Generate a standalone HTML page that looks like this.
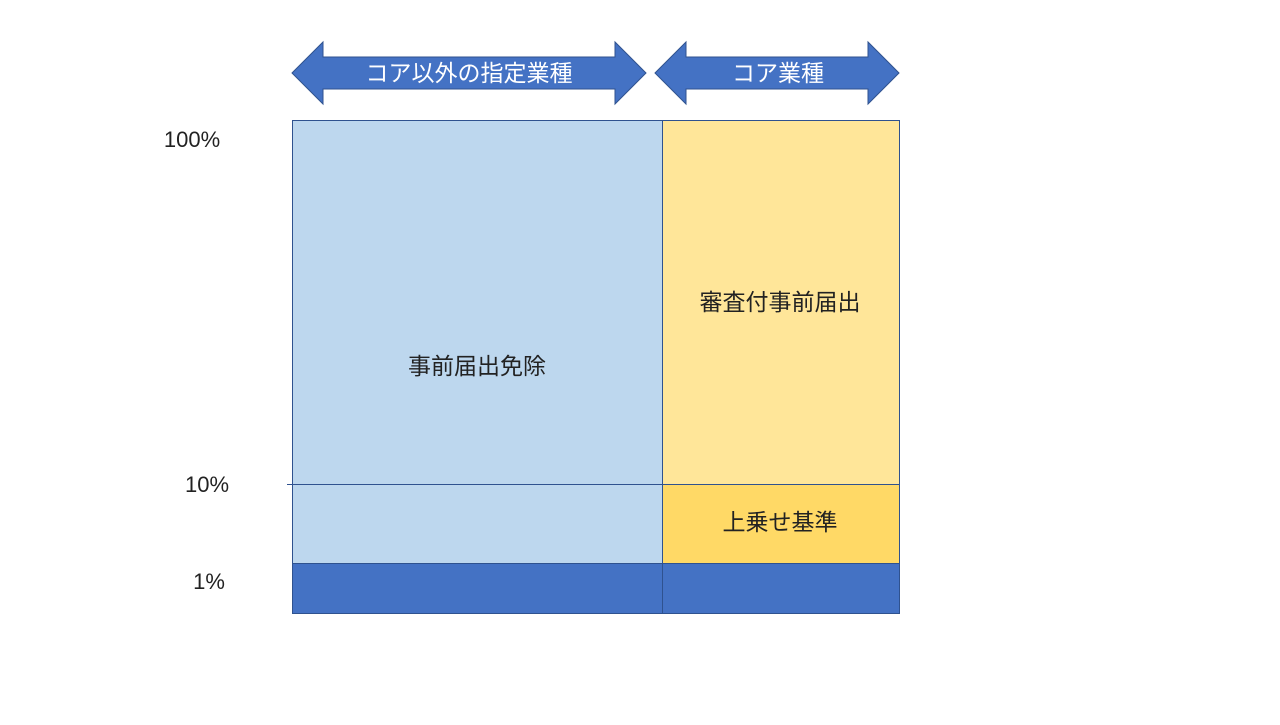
<!DOCTYPE html>
<html><head><meta charset="utf-8"><style>
body{margin:0;width:1280px;height:720px;background:#fff;overflow:hidden}
svg text{font-family:"Liberation Sans","Noto Sans CJK JP",sans-serif}
</style></head><body>
<svg width="1280" height="720" xmlns="http://www.w3.org/2000/svg">
<polygon points="292,73 323,42 323,57 615,57 615,42 646,73 615,104 615,89 323,89 323,104" fill="#4472C4" stroke="#2F528F" stroke-width="1"/>
<polygon points="655,73 686,42 686,57 868,57 868,42 899,73 868,104 868,89 686,89 686,104" fill="#4472C4" stroke="#2F528F" stroke-width="1"/>
<text x="469" y="81" font-size="23" fill="#fff" text-anchor="middle">コア以外の指定業種</text>
<text x="778" y="81" font-size="23" fill="#fff" text-anchor="middle">コア業種</text>
<rect x="292.5" y="120.5" width="370" height="443" fill="#BDD7EE" stroke="#2F528F"/>
<rect x="662.5" y="120.5" width="237" height="364" fill="#FFE699" stroke="#2F528F"/>
<rect x="662.5" y="484.5" width="237" height="79" fill="#FFD966" stroke="#2F528F"/>
<rect x="292.5" y="563.5" width="370" height="50" fill="#4472C4" stroke="#2F528F"/>
<rect x="662.5" y="563.5" width="237" height="50" fill="#4472C4" stroke="#2F528F"/>
<line x1="287" y1="484.5" x2="662" y2="484.5" stroke="#2F528F" stroke-width="1"/>
<g font-size="23" fill="#222" text-anchor="middle">
<text x="477" y="374">事前届出免除</text>
<text x="780" y="310">審査付事前届出</text>
<text x="780" y="530">上乗せ基準</text>
</g>
<g font-size="22" fill="#222" text-anchor="middle">
<text x="192" y="147">100%</text>
<text x="207" y="492">10%</text>
<text x="209" y="589">1%</text>
</g>
</svg>
</body></html>
